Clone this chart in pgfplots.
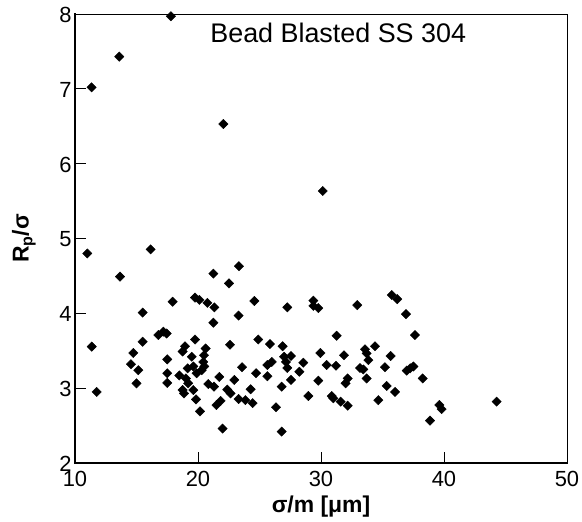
\documentclass[border=0pt]{standalone}
\usepackage{fontspec}
\setmainfont{Liberation Sans}
\usepackage{pgfplots}
\pgfplotsset{compat=1.18}

\begin{document}
\begin{tikzpicture}
\begin{axis}[
    scale only axis,
    width=492bp, height=449bp,
    xmin=10, xmax=50, ymin=2, ymax=8,
    xtick={10,20,30,40,50},
    ytick={2,3,4,5,6,7,8},
    tick align=inside,
    tick pos=left,
    major tick length=11bp,
    axis line style={line width=0.8bp},
    every tick/.style={black, line width=0.8bp},
    /pgf/number format/assume math mode=true,
    tick label style={font=\fontsize{22}{26}\selectfont},
    xticklabel style={yshift=-5bp},
    yticklabel style={yshift=-1bp},
    xlabel={\textbf{σ/m [μm]}},
    ylabel={\textbf{R\textsubscript{p}/σ}},
    label style={font=\fontsize{23}{27}\selectfont},
    x label style={at={(axis description cs:0.5,-0.098)}, anchor=center},
    y label style={at={(axis description cs:-0.104,0.5)}, anchor=center},
    clip=false,
]
\addplot[only marks, mark=square*, mark size=3.3bp,
         mark options={rotate=45, fill=black, draw=black}]
coordinates {
(17.8,7.97) (13.6,7.43) (11.35,7.02) (22.06,6.53) (30.14,5.635)
(11.0,4.80) (16.15,4.855) (13.66,4.49) (11.36,3.555) (11.76,2.95)
(15.5,4.01) (17.94,4.155) (15.5,3.62) (14.74,3.47) (14.55,3.32)
(15.15,3.24) (15.0,3.065) (16.78,3.71) (17.18,3.755) (17.45,3.73)
(17.5,3.385) (17.5,3.2) (17.5,3.07) (18.48,3.17) (18.94,3.56)
(18.75,3.49) (19.49,3.42) (19.76,3.65) (19.16,3.265) (19.62,3.29)
(19.02,3.13) (19.2,3.065) (18.75,2.975) (18.86,2.93) (19.62,2.975)
(19.84,2.85) (20.16,2.69) (19.89,3.2) (20.3,3.24) (20.43,3.35)
(20.49,3.44) (20.62,3.53) (20.51,3.29) (19.76,4.21) (20.11,4.18)
(20.76,4.14) (21.33,4.08) (21.25,4.53) (21.25,3.875) (22.52,4.4)
(23.33,4.63) (23.3,3.97) (22.6,3.58) (23.58,3.28) (20.84,3.055)
(21.3,3.02) (21.73,3.15) (21.5,2.775) (21.84,2.83) (22.0,2.46)
(22.38,2.98) (22.65,2.93) (22.95,3.11) (23.3,2.855) (23.85,2.84)
(24.28,2.985) (24.44,2.8) (24.58,4.165) (24.9,3.65) (24.72,3.2)
(25.64,3.31) (25.64,3.16) (25.85,3.59) (26.0,3.35) (26.34,2.745)
(26.8,2.42) (26.88,3.56) (26.8,3.02) (27.0,3.42) (27.15,3.35)
(27.26,3.27) (27.56,3.43) (27.26,4.08) (27.56,3.11) (28.24,3.22)
(28.56,3.34) (28.97,2.895) (29.38,4.17) (29.38,4.1) (29.78,4.07)
(29.95,3.47) (29.78,3.1) (32.95,4.11) (35.75,4.245) (36.2,4.19)
(36.91,3.99) (37.64,3.71) (31.27,3.70) (31.87,3.44) (33.58,3.52)
(34.39,3.56) (33.71,3.465) (33.85,3.375) (35.66,3.43) (30.46,3.31)
(31.22,3.30) (33.17,3.27) (33.44,3.25) (35.2,3.28) (37.25,3.265)
(37.51,3.29) (36.97,3.235) (32.17,3.13) (32.0,3.065) (33.71,3.13)
(38.27,3.13) (30.87,2.895) (31.0,2.865) (31.6,2.82) (32.17,2.766)
(34.66,2.84) (35.34,3.03) (36.02,2.95) (38.86,2.566) (39.62,2.775)
(39.81,2.72) (44.28,2.82)
};
% heavier left and bottom axis lines
\draw[line width=2.6bp, line cap=rect] (rel axis cs:0,1) -- (rel axis cs:0,0) -- (rel axis cs:1,0);
\node[font=\fontsize{27}{30}\selectfont] at (rel axis cs:0.535,0.958) {Bead Blasted SS 304};
\end{axis}
\pgfresetboundingbox
\path[use as bounding box] (current axis.south west) ++(-75bp,-59bp) rectangle ++(582bp,522bp);
\end{tikzpicture}
\end{document}
